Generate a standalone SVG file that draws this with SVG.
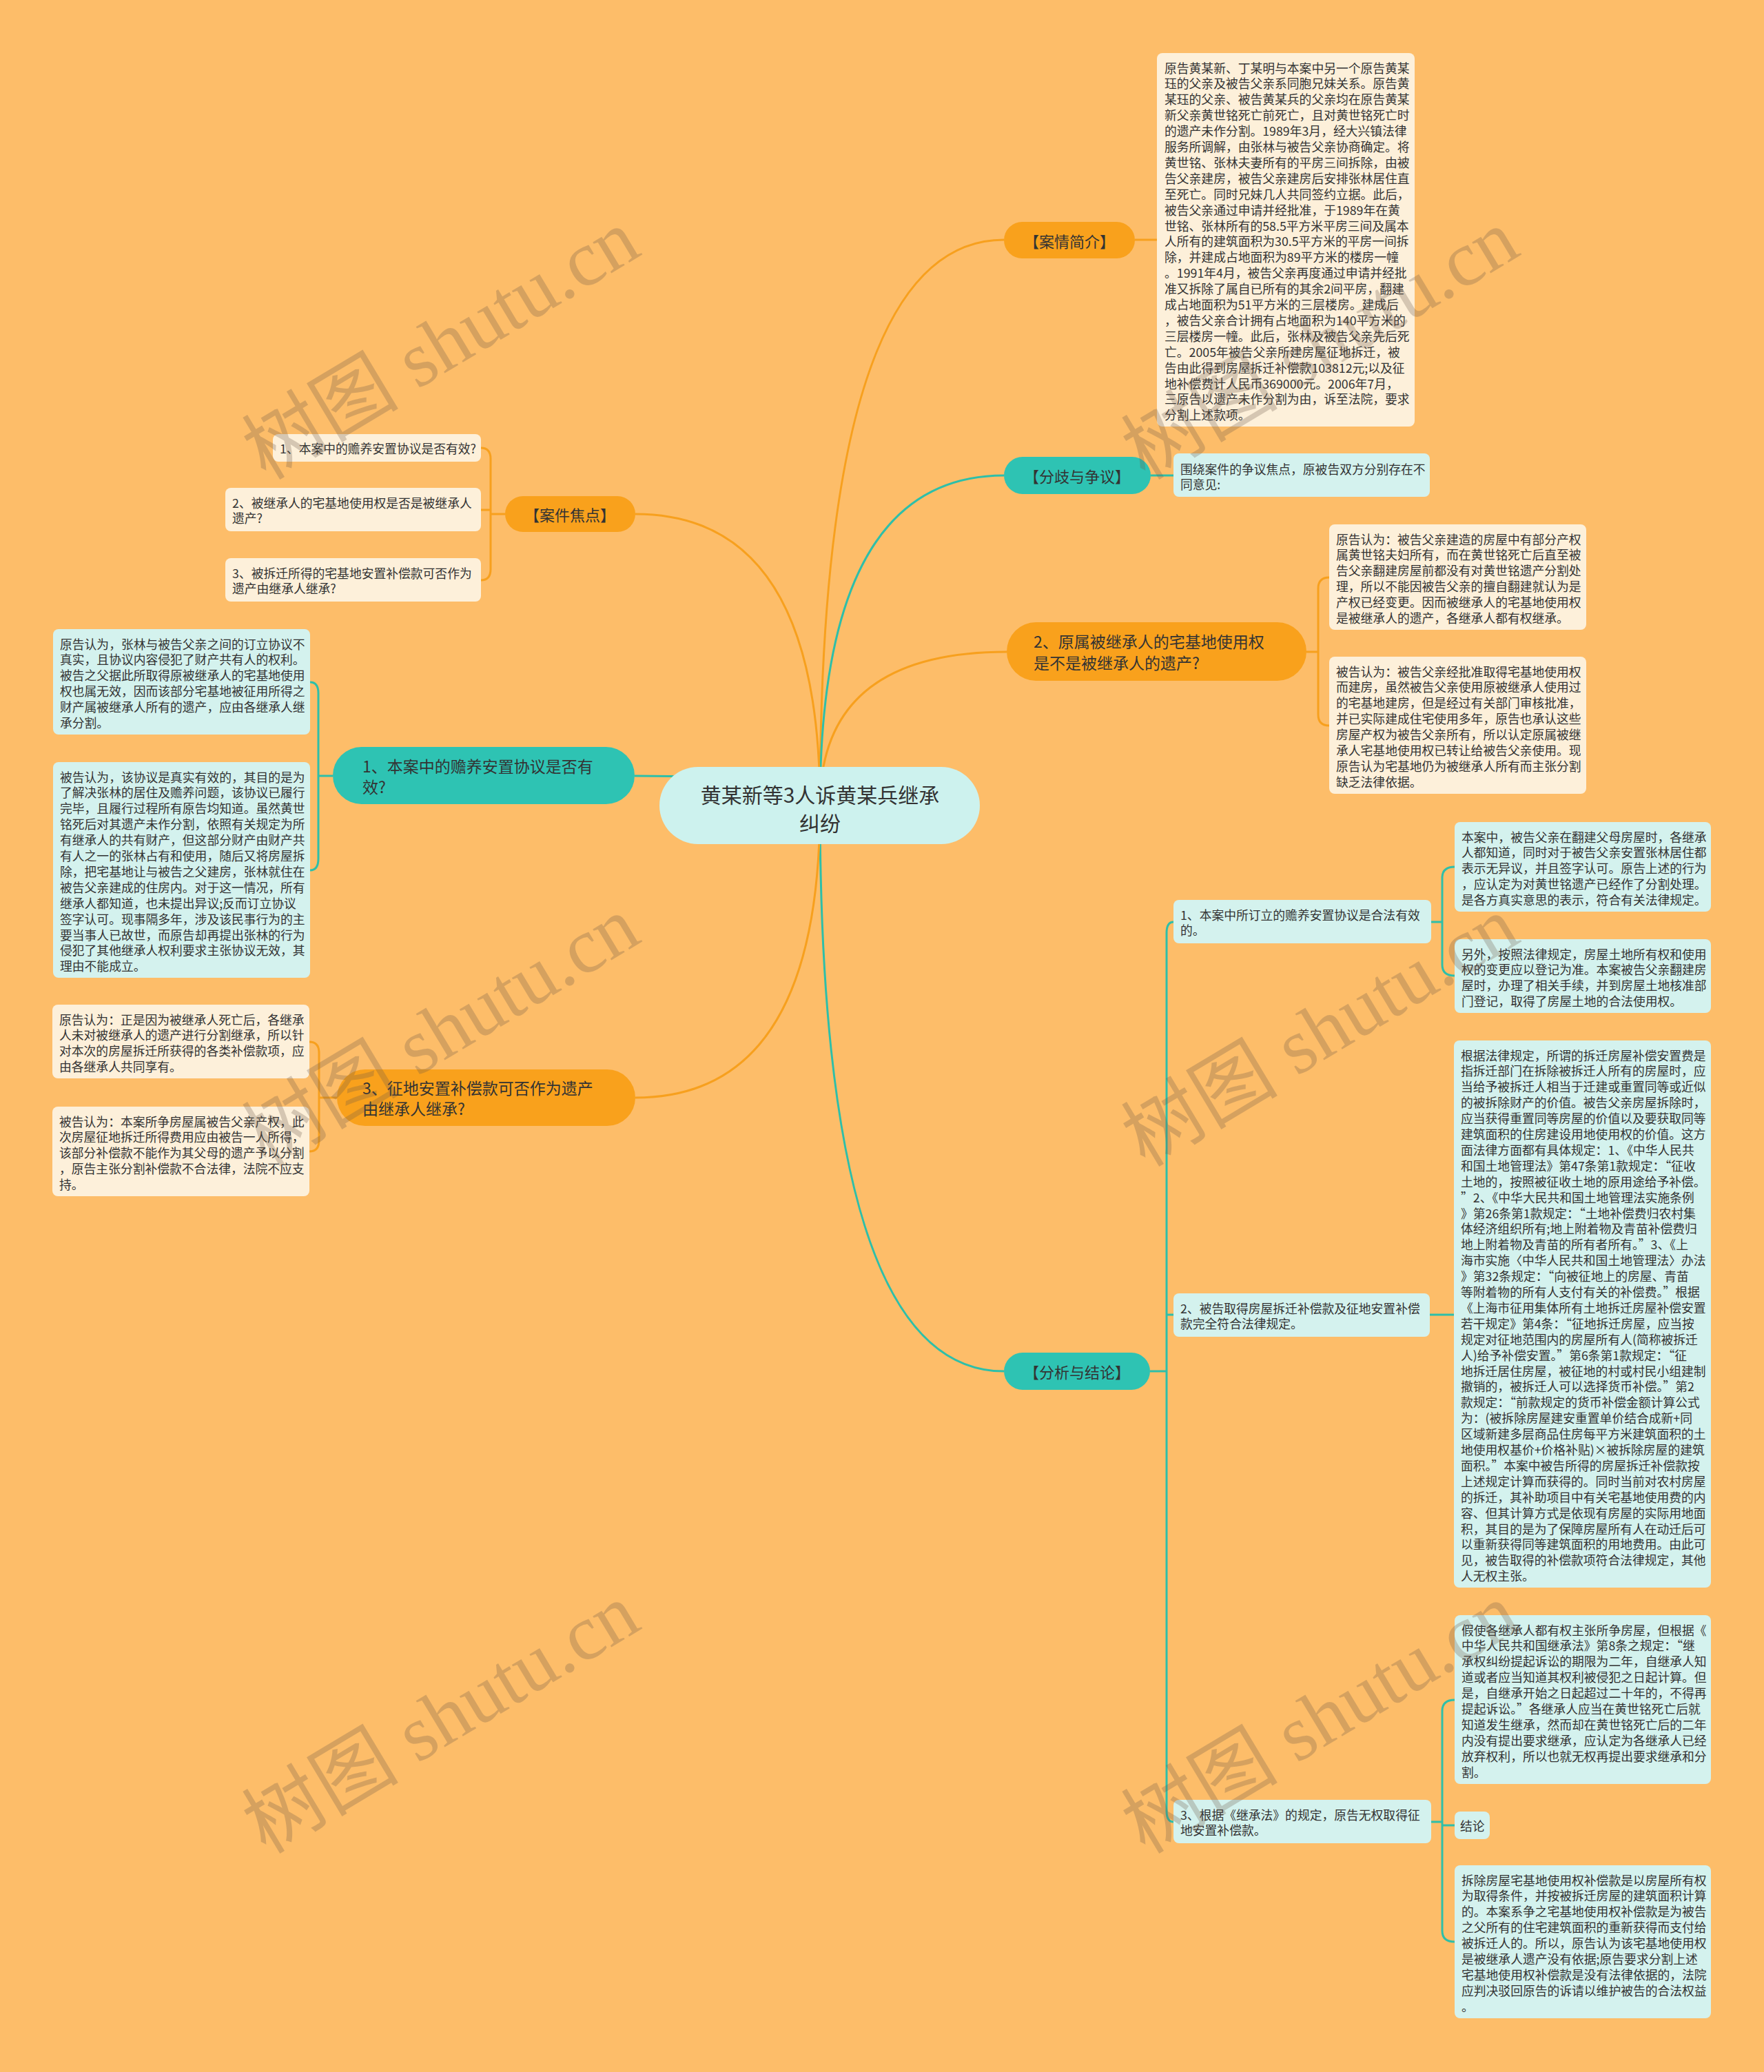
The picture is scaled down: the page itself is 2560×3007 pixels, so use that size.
<svg xmlns="http://www.w3.org/2000/svg" width="2560" height="3007" viewBox="0 0 2560 3007">
<style>
text{font-family:"Noto Sans CJK SC","Noto Sans",sans-serif;fill:#333;dominant-baseline:central}
.s{font-size:17.8px}
.n{font-size:23px}
.h{font-size:22px;text-anchor:middle}
.c{font-size:30px;text-anchor:middle}
.cream{fill:#FDF0DA}
.cyan{fill:#D4F2EE}
.or{fill:#F9A11C}
.te{fill:#2EC3B3}
.lo{fill:none;stroke:#F7A01E;stroke-width:3}
.lt{fill:none;stroke:#2EBFA9;stroke-width:3}
.wm{font-family:"Liberation Serif","Noto Sans CJK SC",serif;font-size:114px;fill:#6e5a48;opacity:0.27;text-anchor:middle}
</style>
<rect x="0" y="0" width="2560" height="3007" fill="#FDBD69"/>

<g id="connectors">
<path class="lo" d="M1190,1169 Q1190,348 1457,348"/>
<path class="lt" d="M1190,1169 Q1190,690 1457,690"/>
<path class="lo" d="M1190,1169 Q1190,946 1461,946"/>
<path class="lt" d="M1190,1169 Q1190,1990 1457,1990"/>
<path class="lo" d="M1190,1169 Q1190,746 922,746"/>
<path class="lt" d="M1190,1169 Q1190,1126 921,1126"/>
<path class="lo" d="M1190,1169 Q1190,1593 922,1593"/>
<path class="lo" d="M1647,348 H1679"/>
<path class="lt" d="M1670,690 H1703"/>
<path class="lo" d="M1896,946 H1913 V854 Q1913,838 1929,838 M1913,946 V1037 Q1913,1053 1929,1053"/>
<path class="lo" d="M733,746 H712 V666 Q712,650 698,650 M712,746 V740 H698 M712,746 V826 Q712,842 698,842"/>
<path class="lt" d="M483,1126 H462 V1006 Q462,990 450,990 M462,1126 V1246 Q462,1263 450,1263"/>
<path class="lo" d="M489,1593 H463 V1528 Q463,1512 449,1512 M463,1593 V1655 Q463,1671 449,1671"/>
<path class="lt" d="M1669,1990 H1693 V1354 Q1693,1338 1703,1338 M1693,1990 V1908 H1703 M1693,1990 V2628 Q1693,2644 1703,2644"/>
<path class="lt" d="M2077,1338 H2093 V1274 Q2093,1258 2111,1258 M2093,1338 V1400 Q2093,1416 2111,1416"/>
<path class="lt" d="M2075,1908 H2110"/>
<path class="lt" d="M2077,2644 H2093 V2483 Q2093,2467 2111,2467 M2093,2644 V2649 H2111 M2093,2644 V2802 Q2093,2818 2111,2818"/>
</g>

<g id="center">
<rect x="957" y="1113" width="465" height="112" rx="56" fill="#CDF2EE"/>
<text class="c"><tspan x="1190" y="1152">黄某新等3人诉黄某兵继承</tspan><tspan x="1190" y="1193">纠纷</tspan></text>
</g>

<g id="n-anqing">
<rect class="or" x="1457" y="322" width="190" height="53" rx="26.5"/>
<text class="h" x="1552" y="348.5">【案情简介】</text>
</g>
<g id="n-anqing-text">
<rect class="cream" x="1679" y="77" width="374" height="542" rx="8"/>
<text class="s">
<tspan x="1690" y="97.5">原告黄某新、丁某明与本案中另一个原告黄某</tspan>
<tspan x="1690" y="120.4">珏的父亲及被告父亲系同胞兄妹关系。原告黄</tspan>
<tspan x="1690" y="143.3">某珏的父亲、被告黄某兵的父亲均在原告黄某</tspan>
<tspan x="1690" y="166.2">新父亲黄世铭死亡前死亡，且对黄世铭死亡时</tspan>
<tspan x="1690" y="189.1">的遗产未作分割。1989年3月，经大兴镇法律</tspan>
<tspan x="1690" y="212.0">服务所调解，由张林与被告父亲协商确定。将</tspan>
<tspan x="1690" y="234.9">黄世铭、张林夫妻所有的平房三间拆除，由被</tspan>
<tspan x="1690" y="257.8">告父亲建房，被告父亲建房后安排张林居住直</tspan>
<tspan x="1690" y="280.7">至死亡。同时兄妹几人共同签约立据。此后，</tspan>
<tspan x="1690" y="303.6">被告父亲通过申请并经批准，于1989年在黄</tspan>
<tspan x="1690" y="326.5">世铭、张林所有的58.5平方米平房三间及属本</tspan>
<tspan x="1690" y="349.4">人所有的建筑面积为30.5平方米的平房一间拆</tspan>
<tspan x="1690" y="372.3">除，并建成占地面积为89平方米的楼房一幢</tspan>
<tspan x="1690" y="395.2">。1991年4月，被告父亲再度通过申请并经批</tspan>
<tspan x="1690" y="418.1">准又拆除了属自已所有的其余2间平房，翻建</tspan>
<tspan x="1690" y="441.0">成占地面积为51平方米的三层楼房。建成后</tspan>
<tspan x="1690" y="463.9">，被告父亲合计拥有占地面积为140平方米的</tspan>
<tspan x="1690" y="486.8">三层楼房一幢。此后，张林及被告父亲先后死</tspan>
<tspan x="1690" y="509.7">亡。2005年被告父亲所建房屋征地拆迁，被</tspan>
<tspan x="1690" y="532.6">告由此得到房屋拆迁补偿款103812元;以及征</tspan>
<tspan x="1690" y="555.5">地补偿费计人民币369000元。2006年7月，</tspan>
<tspan x="1690" y="578.4">三原告以遗产未作分割为由，诉至法院，要求</tspan>
<tspan x="1690" y="601.3">分割上述款项。</tspan>
</text>
</g>

<g id="n-fenqi">
<rect class="te" x="1457" y="663" width="213" height="54" rx="27"/>
<text class="h" x="1563" y="690">【分歧与争议】</text>
</g>
<g id="n-fenqi-text">
<rect class="cyan" x="1703" y="658" width="372" height="63" rx="8"/>
<text class="s"><tspan x="1713" y="679.5">围绕案件的争议焦点，原被告双方分别存在不</tspan><tspan x="1713" y="702.4">同意见:</tspan></text>
</g>

<g id="n-q2">
<rect class="or" x="1461" y="903" width="435" height="85" rx="42.5"/>
<text class="n"><tspan x="1500" y="930">2、原属被继承人的宅基地使用权</tspan><tspan x="1500" y="961">是不是被继承人的遗产?</tspan></text>
</g>
<g id="n-q2-a">
<rect class="cream" x="1929" y="761" width="373" height="153" rx="8"/>
<text class="s">
<tspan x="1939" y="781.5">原告认为：被告父亲建造的房屋中有部分产权</tspan>
<tspan x="1939" y="804.4">属黄世铭夫妇所有，而在黄世铭死亡后直至被</tspan>
<tspan x="1939" y="827.3">告父亲翻建房屋前都没有对黄世铭遗产分割处</tspan>
<tspan x="1939" y="850.2">理，所以不能因被告父亲的擅自翻建就认为是</tspan>
<tspan x="1939" y="873.1">产权已经变更。因而被继承人的宅基地使用权</tspan>
<tspan x="1939" y="896.0">是被继承人的遗产，各继承人都有权继承。</tspan>
</text>
</g>
<g id="n-q2-b">
<rect class="cream" x="1929" y="953" width="373" height="199" rx="8"/>
<text class="s">
<tspan x="1939" y="973.5">被告认为：被告父亲经批准取得宅基地使用权</tspan>
<tspan x="1939" y="996.4">而建房，虽然被告父亲使用原被继承人使用过</tspan>
<tspan x="1939" y="1019.3">的宅基地建房，但是经过有关部门审核批准，</tspan>
<tspan x="1939" y="1042.2">并已实际建成住宅使用多年，原告也承认这些</tspan>
<tspan x="1939" y="1065.1">房屋产权为被告父亲所有，所以认定原属被继</tspan>
<tspan x="1939" y="1088.0">承人宅基地使用权已转让给被告父亲使用。现</tspan>
<tspan x="1939" y="1110.9">原告认为宅基地仍为被继承人所有而主张分割</tspan>
<tspan x="1939" y="1133.8">缺乏法律依据。</tspan>
</text>
</g>

<g id="n-jiaodian">
<rect class="or" x="733" y="720" width="189" height="52" rx="26"/>
<text class="h" x="827" y="746">【案件焦点】</text>
</g>
<g id="n-jd1">
<rect class="cream" x="396" y="630" width="302" height="40" rx="8"/>
<text class="s" x="406" y="650">1、本案中的赡养安置协议是否有效?</text>
</g>
<g id="n-jd2">
<rect class="cream" x="327" y="708" width="371" height="63" rx="8"/>
<text class="s"><tspan x="337" y="728.5">2、被继承人的宅基地使用权是否是被继承人</tspan><tspan x="337" y="751.4">遗产?</tspan></text>
</g>
<g id="n-jd3">
<rect class="cream" x="327" y="810" width="371" height="63" rx="8"/>
<text class="s"><tspan x="337" y="830.5">3、被拆迁所得的宅基地安置补偿款可否作为</tspan><tspan x="337" y="853.4">遗产由继承人继承?</tspan></text>
</g>

<g id="n-l1">
<rect class="te" x="483" y="1084" width="438" height="83" rx="41.5"/>
<text class="n"><tspan x="526" y="1111">1、本案中的赡养安置协议是否有</tspan><tspan x="526" y="1141">效?</tspan></text>
</g>
<g id="n-l1-a">
<rect class="cyan" x="77" y="913" width="373" height="153" rx="8"/>
<text class="s">
<tspan x="87" y="933.5">原告认为，张林与被告父亲之间的订立协议不</tspan>
<tspan x="87" y="956.4">真实，且协议内容侵犯了财产共有人的权利。</tspan>
<tspan x="87" y="979.3">被告之父据此所取得原被继承人的宅基地使用</tspan>
<tspan x="87" y="1002.2">权也属无效，因而该部分宅基地被征用所得之</tspan>
<tspan x="87" y="1025.1">财产属被继承人所有的遗产，应由各继承人继</tspan>
<tspan x="87" y="1048.0">承分割。</tspan>
</text>
</g>
<g id="n-l1-b">
<rect class="cyan" x="77" y="1106" width="373" height="313" rx="8"/>
<text class="s">
<tspan x="87" y="1126.5">被告认为，该协议是真实有效的，其目的是为</tspan>
<tspan x="87" y="1149.4">了解决张林的居住及赡养问题，该协议已履行</tspan>
<tspan x="87" y="1172.3">完毕，且履行过程所有原告均知道。虽然黄世</tspan>
<tspan x="87" y="1195.2">铭死后对其遗产未作分割，依照有关规定为所</tspan>
<tspan x="87" y="1218.1">有继承人的共有财产，但这部分财产由财产共</tspan>
<tspan x="87" y="1241.0">有人之一的张林占有和使用，随后又将房屋拆</tspan>
<tspan x="87" y="1263.9">除，把宅基地让与被告之父建房，张林就住在</tspan>
<tspan x="87" y="1286.8">被告父亲建成的住房内。对于这一情况，所有</tspan>
<tspan x="87" y="1309.7">继承人都知道，也未提出异议;反而订立协议</tspan>
<tspan x="87" y="1332.6">签字认可。现事隔多年，涉及该民事行为的主</tspan>
<tspan x="87" y="1355.5">要当事人已故世，而原告却再提出张林的行为</tspan>
<tspan x="87" y="1378.4">侵犯了其他继承人权利要求主张协议无效，其</tspan>
<tspan x="87" y="1401.3">理由不能成立。</tspan>
</text>
</g>

<g id="n-l3">
<rect class="or" x="489" y="1552" width="433" height="82" rx="41"/>
<text class="n"><tspan x="526" y="1578">3、征地安置补偿款可否作为遗产</tspan><tspan x="526" y="1608">由继承人继承?</tspan></text>
</g>
<g id="n-l3-a">
<rect class="cream" x="76" y="1458" width="373" height="107" rx="8"/>
<text class="s">
<tspan x="86" y="1478.5">原告认为：正是因为被继承人死亡后，各继承</tspan>
<tspan x="86" y="1501.4">人未对被继承人的遗产进行分割继承，所以针</tspan>
<tspan x="86" y="1524.3">对本次的房屋拆迁所获得的各类补偿款项，应</tspan>
<tspan x="86" y="1547.2">由各继承人共同享有。</tspan>
</text>
</g>
<g id="n-l3-b">
<rect class="cream" x="76" y="1606" width="373" height="130" rx="8"/>
<text class="s">
<tspan x="86" y="1626.5">被告认为：本案所争房屋属被告父亲产权，此</tspan>
<tspan x="86" y="1649.4">次房屋征地拆迁所得费用应由被告一人所得，</tspan>
<tspan x="86" y="1672.3">该部分补偿款不能作为其父母的遗产予以分割</tspan>
<tspan x="86" y="1695.2">，原告主张分割补偿款不合法律，法院不应支</tspan>
<tspan x="86" y="1718.1">持。</tspan>
</text>
</g>

<g id="n-fenxi">
<rect class="te" x="1457" y="1963" width="212" height="54" rx="27"/>
<text class="h" x="1563" y="1990">【分析与结论】</text>
</g>
<g id="n-a1">
<rect class="cyan" x="1703" y="1306" width="374" height="63" rx="8"/>
<text class="s"><tspan x="1713" y="1326.5">1、本案中所订立的赡养安置协议是合法有效</tspan><tspan x="1713" y="1349.4">的。</tspan></text>
</g>
<g id="n-b1">
<rect class="cyan" x="2111" y="1193" width="372" height="130" rx="8"/>
<text class="s">
<tspan x="2121" y="1213.5">本案中，被告父亲在翻建父母房屋时，各继承</tspan>
<tspan x="2121" y="1236.4">人都知道，同时对于被告父亲安置张林居住都</tspan>
<tspan x="2121" y="1259.3">表示无异议，并且签字认可。原告上述的行为</tspan>
<tspan x="2121" y="1282.2">，应认定为对黄世铭遗产已经作了分割处理。</tspan>
<tspan x="2121" y="1305.1">是各方真实意思的表示，符合有关法律规定。</tspan>
</text>
</g>
<g id="n-b2">
<rect class="cyan" x="2111" y="1363" width="372" height="107" rx="8"/>
<text class="s">
<tspan x="2121" y="1383.5">另外，按照法律规定，房屋土地所有权和使用</tspan>
<tspan x="2121" y="1406.4">权的变更应以登记为准。本案被告父亲翻建房</tspan>
<tspan x="2121" y="1429.3">屋时，办理了相关手续，并到房屋土地核准部</tspan>
<tspan x="2121" y="1452.2">门登记，取得了房屋土地的合法使用权。</tspan>
</text>
</g>

<g id="n-a2">
<rect class="cyan" x="1703" y="1877" width="372" height="63" rx="8"/>
<text class="s"><tspan x="1713" y="1897.5">2、被告取得房屋拆迁补偿款及征地安置补偿</tspan><tspan x="1713" y="1920.4">款完全符合法律规定。</tspan></text>
</g>
<g id="n-c">
<rect class="cyan" x="2110" y="1510" width="373" height="794" rx="8"/>
<text class="s">
<tspan x="2120" y="1530.5">根据法律规定，所谓的拆迁房屋补偿安置费是</tspan>
<tspan x="2120" y="1553.4">指拆迁部门在拆除被拆迁人所有的房屋时，应</tspan>
<tspan x="2120" y="1576.3">当给予被拆迁人相当于迁建或重置同等或近似</tspan>
<tspan x="2120" y="1599.2">的被拆除财产的价值。被告父亲房屋拆除时，</tspan>
<tspan x="2120" y="1622.1">应当获得重置同等房屋的价值以及要获取同等</tspan>
<tspan x="2120" y="1645.0">建筑面积的住房建设用地使用权的价值。这方</tspan>
<tspan x="2120" y="1667.9">面法律方面都有具体规定：1、《中华人民共</tspan>
<tspan x="2120" y="1690.8">和国土地管理法》第47条第1款规定：“征收</tspan>
<tspan x="2120" y="1713.7">土地的，按照被征收土地的原用途给予补偿。</tspan>
<tspan x="2120" y="1736.6">”2、《中华大民共和国土地管理法实施条例</tspan>
<tspan x="2120" y="1759.5">》第26条第1款规定：“土地补偿费归农村集</tspan>
<tspan x="2120" y="1782.4">体经济组织所有;地上附着物及青苗补偿费归</tspan>
<tspan x="2120" y="1805.3">地上附着物及青苗的所有者所有。”3、《上</tspan>
<tspan x="2120" y="1828.2">海市实施〈中华人民共和国土地管理法〉办法</tspan>
<tspan x="2120" y="1851.1">》第32条规定：“向被征地上的房屋、青苗</tspan>
<tspan x="2120" y="1874.0">等附着物的所有人支付有关的补偿费。”根据</tspan>
<tspan x="2120" y="1896.9">《上海市征用集体所有土地拆迁房屋补偿安置</tspan>
<tspan x="2120" y="1919.8">若干规定》第4条：“征地拆迁房屋，应当按</tspan>
<tspan x="2120" y="1942.7">规定对征地范围内的房屋所有人(简称被拆迁</tspan>
<tspan x="2120" y="1965.6">人)给予补偿安置。”第6条第1款规定：“征</tspan>
<tspan x="2120" y="1988.5">地拆迁居住房屋，被征地的村或村民小组建制</tspan>
<tspan x="2120" y="2011.4">撤销的，被拆迁人可以选择货币补偿。”第2</tspan>
<tspan x="2120" y="2034.3">款规定：“前款规定的货币补偿金额计算公式</tspan>
<tspan x="2120" y="2057.2">为：(被拆除房屋建安重置单价结合成新+同</tspan>
<tspan x="2120" y="2080.1">区域新建多层商品住房每平方米建筑面积的土</tspan>
<tspan x="2120" y="2103.0">地使用权基价+价格补贴)×被拆除房屋的建筑</tspan>
<tspan x="2120" y="2125.9">面积。”本案中被告所得的房屋拆迁补偿款按</tspan>
<tspan x="2120" y="2148.8">上述规定计算而获得的。同时当前对农村房屋</tspan>
<tspan x="2120" y="2171.7">的拆迁，其补助项目中有关宅基地使用费的内</tspan>
<tspan x="2120" y="2194.6">容、但其计算方式是依现有房屋的实际用地面</tspan>
<tspan x="2120" y="2217.5">积，其目的是为了保障房屋所有人在动迁后可</tspan>
<tspan x="2120" y="2240.4">以重新获得同等建筑面积的用地费用。由此可</tspan>
<tspan x="2120" y="2263.3">见，被告取得的补偿款项符合法律规定，其他</tspan>
<tspan x="2120" y="2286.2">人无权主张。</tspan>
</text>
</g>

<g id="n-a3">
<rect class="cyan" x="1703" y="2612" width="374" height="63" rx="8"/>
<text class="s"><tspan x="1713" y="2632.5">3、根据《继承法》的规定，原告无权取得征</tspan><tspan x="1713" y="2655.4">地安置补偿款。</tspan></text>
</g>
<g id="n-d1">
<rect class="cyan" x="2111" y="2344" width="372" height="245" rx="8"/>
<text class="s">
<tspan x="2121" y="2364.5">假使各继承人都有权主张所争房屋，但根据《</tspan>
<tspan x="2121" y="2387.4">中华人民共和国继承法》第8条之规定：“继</tspan>
<tspan x="2121" y="2410.3">承权纠纷提起诉讼的期限为二年，自继承人知</tspan>
<tspan x="2121" y="2433.2">道或者应当知道其权利被侵犯之日起计算。但</tspan>
<tspan x="2121" y="2456.1">是，自继承开始之日起超过二十年的，不得再</tspan>
<tspan x="2121" y="2479.0">提起诉讼。”各继承人应当在黄世铭死亡后就</tspan>
<tspan x="2121" y="2501.9">知道发生继承，然而却在黄世铭死亡后的二年</tspan>
<tspan x="2121" y="2524.8">内没有提出要求继承，应认定为各继承人已经</tspan>
<tspan x="2121" y="2547.7">放弃权利，所以也就无权再提出要求继承和分</tspan>
<tspan x="2121" y="2570.6">割。</tspan>
</text>
</g>
<g id="n-d2">
<rect class="cyan" x="2111" y="2629" width="51" height="40" rx="8"/>
<text class="s" x="2119" y="2649">结论</text>
</g>
<g id="n-d3">
<rect class="cyan" x="2111" y="2707" width="372" height="222" rx="8"/>
<text class="s">
<tspan x="2121" y="2727.5">拆除房屋宅基地使用权补偿款是以房屋所有权</tspan>
<tspan x="2121" y="2750.4">为取得条件，并按被拆迁房屋的建筑面积计算</tspan>
<tspan x="2121" y="2773.3">的。本案系争之宅基地使用权补偿款是为被告</tspan>
<tspan x="2121" y="2796.2">之父所有的住宅建筑面积的重新获得而支付给</tspan>
<tspan x="2121" y="2819.1">被拆迁人的。所以，原告认为该宅基地使用权</tspan>
<tspan x="2121" y="2842.0">是被继承人遗产没有依据;原告要求分割上述</tspan>
<tspan x="2121" y="2864.9">宅基地使用权补偿款是没有法律依据的，法院</tspan>
<tspan x="2121" y="2887.8">应判决驳回原告的诉请以维护被告的合法权益</tspan>
<tspan x="2121" y="2910.7">。</tspan>
</text>
</g>

<g id="watermarks">
<text class="wm" transform="translate(640,500) rotate(-31)">树图 shutu.cn</text>
<text class="wm" transform="translate(1916,500) rotate(-31)">树图 shutu.cn</text>
<text class="wm" transform="translate(640,1497) rotate(-31)">树图 shutu.cn</text>
<text class="wm" transform="translate(1916,1497) rotate(-31)">树图 shutu.cn</text>
<text class="wm" transform="translate(640,2494) rotate(-31)">树图 shutu.cn</text>
<text class="wm" transform="translate(1916,2494) rotate(-31)">树图 shutu.cn</text>
</g>
</svg>
